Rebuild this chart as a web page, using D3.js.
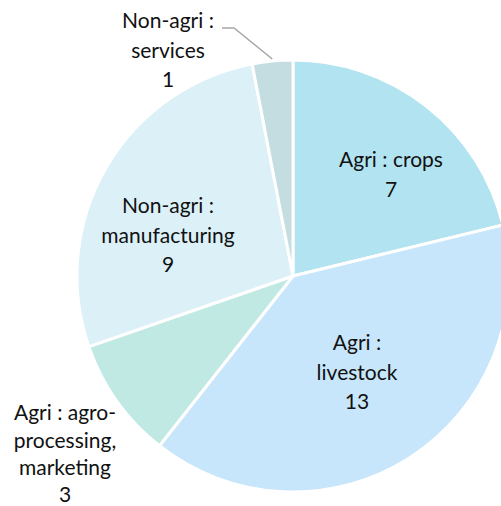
<!DOCTYPE html>
<html>
<head>
<meta charset="utf-8">
<script src="https://cdn.jsdelivr.net/npm/d3@7"></script>
<style>
  html, body { margin: 0; padding: 0; background: #fff; }
  svg text { font-family: Lato, "Open Sans", sans-serif; font-size: 21px; fill: #111; }
</style>
</head>
<body>
<svg id="chart" width="501" height="506"></svg>
<script>
// Employment by sector
const categories = ["Agri : crops", "Agri : livestock", "Agri : agro-processing, marketing", "Non-agri : manufacturing", "Non-agri : services"];
const values = [7, 13, 3, 9, 1];
const colors = ["#b2e3f0", "#c8e6fb", "#c1e9e4", "#dbf0f7", "#c3dde0"];

// label lines, where each label block starts and its line spacing
const labelLines = [
  ["Agri : crops"],
  ["Agri :", "livestock"],
  ["Agri : agro-", "processing,", "marketing"],
  ["Non-agri :", "manufacturing"],
  ["Non-agri :", "services"]
];
const labelPos = [[391, 160], [357, 343], [65, 413], [168, 206], [168, 21]];
const labelStep = [30, 29.5, 27.3, 29.5, 29.5];

const svg = d3.select("#chart");
const cx = 293, cy = 276, r = 216;
const g = svg.append("g").attr("transform", `translate(${cx},${cy})`);

const pie = d3.pie().sort(null).value(d => d.v);
const arc = d3.arc().innerRadius(0).outerRadius(r);
const data = pie(values.map((v, i) => ({ v, i })));

g.selectAll("path").data(data).join("path")
  .attr("d", arc)
  .attr("fill", d => colors[d.data.i])
  .attr("stroke", "#fff")
  .attr("stroke-width", 3)
  .attr("stroke-linejoin", "round");

// leader line for the small services slice
const svc = data[4];
const mid = (svc.startAngle + svc.endAngle) / 2;
const edge = [cx + (r + 2) * Math.sin(mid), cy - (r + 2) * Math.cos(mid)];
svg.append("polyline")
  .attr("points", `222,28 234,28 ${edge[0]},${edge[1]}`)
  .attr("fill", "none")
  .attr("stroke", "#a6a6a6")
  .attr("stroke-width", 1.5);

labelLines.forEach((lines, i) => {
  const [x, y] = labelPos[i];
  const t = svg.append("text").attr("text-anchor", "middle");
  lines.concat([String(values[i])]).forEach((s, k) => {
    t.append("tspan").attr("x", x).attr("y", y + k * labelStep[i]).attr("dy", "0.35em").text(s);
  });
});
</script>
</body>
</html>
